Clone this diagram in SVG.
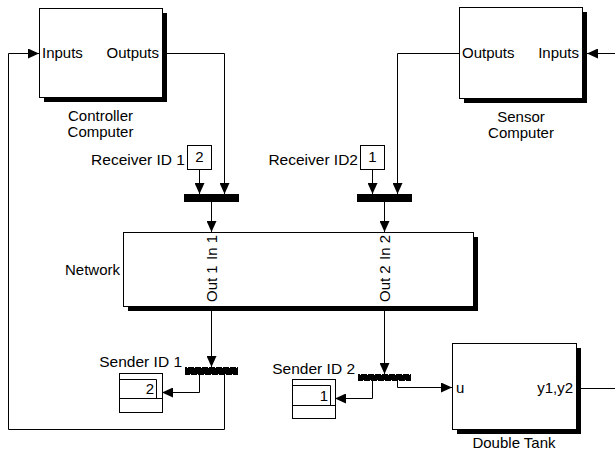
<svg xmlns="http://www.w3.org/2000/svg" width="615" height="454" viewBox="0 0 615 454">
<defs>
<marker id="ah" viewBox="0 0 11 10" refX="11" refY="5" markerWidth="11" markerHeight="10" markerUnits="userSpaceOnUse" orient="auto"><path d="M0,0 L11,5 L0,10 z" fill="#000"/></marker>
</defs>
<style>
text{font-family:"Liberation Sans",Arial,sans-serif;font-size:15px;fill:#000}
.blk{fill:#fff;stroke:#000;stroke-width:1}
.sh{fill:#000}
.ln{fill:none;stroke:#000;stroke-width:1}
.ar{fill:none;stroke:#000;stroke-width:1;marker-end:url(#ah)}
.bar{fill:#000}
.dots{stroke:#fff;stroke-width:1;stroke-dasharray:1 6}
.mid{text-anchor:middle}
.end{text-anchor:end}
.lab{font-size:15.5px}
</style>
<rect width="615" height="454" fill="#fff"/>

<g id="connectors">
<polyline class="ar" points="162,53.5 224.5,53.5 224.5,194"/>
<polyline class="ar" points="459,53.5 397.5,53.5 397.5,194"/>
<line class="ar" x1="615" y1="53.5" x2="587" y2="53.5"/>
<line class="ar" x1="199.5" y1="169" x2="199.5" y2="194"/>
<line class="ar" x1="372.5" y1="169" x2="372.5" y2="194"/>
<line class="ar" x1="211.5" y1="202" x2="211.5" y2="232"/>
<line class="ar" x1="384.5" y1="202" x2="384.5" y2="232"/>
<line class="ar" x1="211.5" y1="306" x2="211.5" y2="367"/>
<line class="ar" x1="384.5" y1="306" x2="384.5" y2="374"/>
<polyline class="ar" points="199.5,375 199.5,392.5 162,392.5"/>
<polyline class="ar" points="224.5,375 224.5,429.5 8.5,429.5 8.5,53.5 39,53.5"/>
<polyline class="ar" points="372.5,381 372.5,398.5 335,398.5"/>
<polyline class="ar" points="397.5,381 397.5,387.5 452,387.5"/>
<line class="ln" x1="576" y1="388.5" x2="615" y2="388.5"/>
</g>

<g id="controller">
<rect class="sh" x="44" y="13" width="123" height="89"/>
<rect class="blk" x="39.5" y="8.5" width="123" height="89"/>
<text x="42" y="58">Inputs</text>
<text class="end" x="159" y="58">Outputs</text>
<text class="mid" x="100.5" y="121">Controller</text>
<text class="mid" x="100.5" y="137">Computer</text>
</g>

<g id="sensor">
<rect class="sh" x="464" y="12" width="123" height="91"/>
<rect class="blk" x="459.5" y="7.5" width="123" height="91"/>
<text x="462" y="58">Outputs</text>
<text class="end" x="579" y="58">Inputs</text>
<text class="mid" x="521" y="122">Sensor</text>
<text class="mid" x="521" y="138">Computer</text>
</g>

<g id="receiver1">
<rect class="blk" x="187.5" y="145.5" width="24" height="24"/>
<text class="mid" x="199.5" y="162">2</text>
<text class="end lab" x="185" y="165">Receiver ID 1</text>
</g>

<g id="receiver2">
<rect class="blk" x="360.5" y="145.5" width="24" height="24"/>
<text class="mid" x="372.5" y="162">1</text>
<text class="end lab" x="358" y="165">Receiver ID2</text>
</g>

<g id="mux1">
<rect class="bar" x="184" y="194" width="55" height="8"/>
</g>

<g id="mux2">
<rect class="bar" x="357" y="194" width="55" height="8"/>
</g>

<g id="network">
<rect class="sh" x="128" y="237" width="350" height="74"/>
<rect class="blk" x="123.5" y="232.5" width="350" height="74"/>
<text class="end" x="120" y="275">Network</text>
<text class="end" transform="translate(216.5,235) rotate(-90)">In 1</text>
<text transform="translate(216.5,302) rotate(-90)">Out 1</text>
<text class="end" transform="translate(389.5,235) rotate(-90)">In 2</text>
<text transform="translate(389.5,302) rotate(-90)">Out 2</text>
</g>

<g id="demux1">
<rect class="bar" x="185" y="367" width="53" height="8"/>
<line class="dots" x1="187" y1="367.5" x2="238" y2="367.5"/>
<line class="dots" x1="190" y1="374.5" x2="238" y2="374.5"/>
</g>

<g id="demux2">
<rect class="bar" x="358" y="374" width="53" height="7"/>
<line class="dots" x1="360" y1="374.5" x2="411" y2="374.5"/>
<line class="dots" x1="363" y1="380.5" x2="411" y2="380.5"/>
</g>

<g id="sender1">
<rect class="blk" x="119.5" y="373.5" width="43" height="39"/>
<polyline class="ln" points="119.5,379.5 156.5,379.5 156.5,398.5"/>
<line class="ln" x1="119.5" y1="398.5" x2="162.5" y2="398.5"/>
<text class="end" x="154" y="394">2</text>
<text class="end lab" x="182" y="367">Sender ID 1</text>
</g>

<g id="sender2">
<rect class="blk" x="292.5" y="379.5" width="43" height="39"/>
<polyline class="ln" points="292.5,385.5 330.5,385.5 330.5,405.5"/>
<line class="ln" x1="292.5" y1="405.5" x2="335.5" y2="405.5"/>
<text class="end" x="328" y="401">1</text>
<text class="end lab" x="355" y="374">Sender ID 2</text>
</g>

<g id="doubletank">
<rect class="sh" x="457" y="348" width="124" height="86"/>
<rect class="blk" x="452.5" y="343.5" width="124" height="86"/>
<text x="456" y="393">u</text>
<text class="end" x="573" y="393">y1,y2</text>
<text class="mid" x="514" y="448">Double Tank</text>
</g>
</svg>
